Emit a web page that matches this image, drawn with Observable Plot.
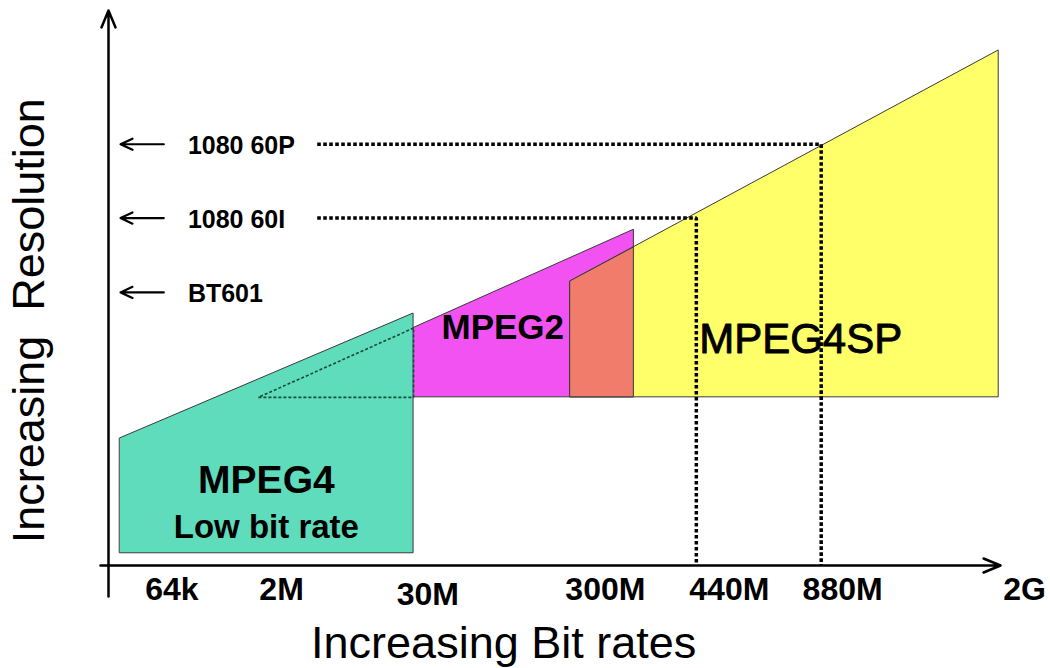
<!DOCTYPE html>
<html>
<head>
<meta charset="utf-8">
<script src="https://cdn.jsdelivr.net/npm/d3@7"></script>
<script src="https://cdn.jsdelivr.net/npm/@observablehq/plot@0.6"></script>
<style>
  html, body { margin: 0; padding: 0; background: #fff; }
  #chart svg { display: block; }
</style>
</head>
<body>
<div id="chart"></div>
<script>
// Conceptual diagram units:
// x = bit-rate position (0 at the resolution axis, 100 at the arrow tip)
// y = resolution level (0 at the bit-rate axis, 100 at the arrow tip)

// Bit-rate tick labels
const tickLabels = ["64k", "2M", "30M", "300M", "440M", "880M", "2G"];
const tickX = [7.1, 19.4, 35.8, 55.7, 69.6, 82.3, 102.7];
const tickY = [-6.3, -6.3, -7.2, -6.3, -6.3, -6.3, -6.3];

// Resolution levels
const levelLabels = ["1080 60P", "1080 60I", "BT601"];
const levelY = [75.9, 62.6, 49.2];
const levelReachX = [79.9, 65.9, null];   // bit rate where MPEG4SP reaches the level
const levelLineStartX = 23.4;
const levelArrowFromX = 6.2;
const levelArrowToX = 1.35;
const levelLabelX = 8.9;

// Codec regions (trapezoids: flat base, sloped top)
const shapeNames     = ["MPEG2", "MPEG4SP", "MPEG2 & MPEG4SP", "MPEG4"];
const shapeLeftX     = [16.8, 51.8, 51.8, 1.3];
const shapeRightX    = [58.9, 99.8, 58.9, 34.2];
const shapeBase      = [30.3, 30.3, 30.3, 2.2];
const shapeTopLeft   = [30.3, 51.2, 51.2, 22.9];
const shapeTopRight  = [60.5, 92.8, 57.3, 45.4];
const shapeColors    = ["#f252f2", "#ffff6a", "#f27c6c", "#5edcbb"];

// Region labels
const regionLabels = ["MPEG2", "MPEG4SP", "MPEG4", "Low bit rate"];
const regionLabelX = [44.2, 77.6, 17.7, 17.7];
const regionLabelY = [40.9, 38.2, 13.0, 4.9];

// Axes extents
const xAxisFrom = -0.9, xAxisTo = 100;
const yAxisFrom = -5.6, yAxisTo = 100;

const xTitle = "Increasing Bit rates";
const yTitle = "Increasing  Resolution";
const xTitlePos = [44.3, -16.6];
const yTitlePos = [-7.2, 44.1];

// ---- derived tables ----
const shapeRows = (i) => [
  {name: shapeNames[i], x: shapeLeftX[i], y1: shapeBase[i], y2: shapeTopLeft[i]},
  {name: shapeNames[i], x: shapeRightX[i], y1: shapeBase[i], y2: shapeTopRight[i]}
];
const topAt = (i, x) => shapeTopLeft[i] + (x - shapeLeftX[i]) * (shapeTopRight[i] - shapeTopLeft[i]) / (shapeRightX[i] - shapeLeftX[i]);

// hidden part of MPEG2 behind MPEG4 (dotted outline)
const hx = shapeRightX[3];
const hidden = [
  {x: hx, y: topAt(0, hx)},
  {x: shapeLeftX[0], y: shapeBase[0]},
  {x: hx, y: shapeBase[0]},
  {x: hx, y: topAt(0, hx)}
];

const levels = levelLabels.map((label, i) => ({label, y: levelY[i], reach: levelReachX[i]}));
const levelLines = levels.filter(d => d.reach != null).map(d => [
  {x: levelLineStartX, y: d.y}, {x: d.reach, y: d.y}, {x: d.reach, y: 0}
]);
const ticks = tickLabels.map((label, i) => ({label, x: tickX[i], y: tickY[i]}));
const regions = regionLabels.map((label, i) => ({label, x: regionLabelX[i], y: regionLabelY[i]}));

const font = "'Liberation Sans', Arial, Helvetica, sans-serif";

const shapeMark = (i) => Plot.areaY(shapeRows(i), {
  x: "x", y1: "y1", y2: "y2",
  fill: shapeColors[i], fillOpacity: 1,
  stroke: "#3a3a3a", strokeWidth: 1
});

const chart = Plot.plot({
  width: 1050,
  height: 668,
  marginLeft: 108,
  marginRight: 50,
  marginTop: 10,
  marginBottom: 103,
  x: {domain: [0, 100], axis: null},
  y: {domain: [0, 100], axis: null},
  style: {background: "#fff", fontFamily: font, overflow: "visible"},
  marks: [
    shapeMark(0),
    shapeMark(1),
    shapeMark(2),
    shapeMark(3),
    Plot.line(hidden, {x: "x", y: "y", stroke: "#17493d", strokeWidth: 1.6, strokeDasharray: "3,2", strokeLinecap: "butt"}),
    // dotted requirement lines
    ...levelLines.map(pts => Plot.line(pts, {x: "x", y: "y", stroke: "#000", strokeWidth: 3.5, strokeDasharray: "3.6,2.4", strokeLinecap: "butt", strokeLinejoin: "miter"})),
    // axes
    Plot.arrow([{x1: xAxisFrom, x2: xAxisTo, y: 0}], {x1: "x1", x2: "x2", y1: "y", y2: "y", stroke: "#000", strokeWidth: 2.5, headLength: 11, headAngle: 45}),
    Plot.arrow([{y1: yAxisFrom, y2: yAxisTo, x: 0}], {x1: "x", x2: "x", y1: "y1", y2: "y2", stroke: "#000", strokeWidth: 2.5, headLength: 11, headAngle: 45}),
    // level arrows and labels
    Plot.arrow(levels, {x1: () => levelArrowFromX, x2: () => levelArrowToX, y1: "y", y2: "y", stroke: "#000", strokeWidth: 2.2, headLength: 9, headAngle: 50}),
    Plot.text(levels, {x: () => levelLabelX, y: "y", text: "label", textAnchor: "start", lineAnchor: "middle", dy: 2, fontSize: 25, fontWeight: "bold", fontFamily: font, fill: "#000"}),
    // tick labels
    Plot.text(ticks, {x: "x", y: "y", text: "label", textAnchor: "middle", lineAnchor: "bottom", fontSize: 32, fontWeight: "bold", fontFamily: font, fill: "#000"}),
    // region labels
    Plot.text([regions[0]], {x: "x", y: "y", text: "label", lineAnchor: "bottom", fontSize: 35, fontWeight: "bold", fontFamily: font, fill: "#000"}),
    Plot.text([regions[1]], {x: "x", y: "y", text: "label", lineAnchor: "bottom", fontSize: 42, fontWeight: "normal", fontFamily: font, fill: "#000", stroke: "#000", strokeWidth: 0.9}),
    Plot.text([regions[2]], {x: "x", y: "y", text: "label", lineAnchor: "bottom", fontSize: 39, fontWeight: "bold", fontFamily: font, fill: "#000"}),
    Plot.text([regions[3]], {x: "x", y: "y", text: "label", lineAnchor: "bottom", fontSize: 33, fontWeight: "bold", fontFamily: font, fill: "#000"}),
    // axis titles
    Plot.text([xTitle], {x: () => xTitlePos[0], y: () => xTitlePos[1], text: d => d, lineAnchor: "bottom", fontSize: 45, fontFamily: font, fill: "#000"}),
    Plot.text([yTitle], {x: () => yTitlePos[0], y: () => yTitlePos[1], text: d => d, rotate: -90, lineAnchor: "bottom", fontSize: 45, fontFamily: font, fill: "#000"})
  ]
});

document.getElementById("chart").appendChild(chart);
</script>
</body>
</html>
